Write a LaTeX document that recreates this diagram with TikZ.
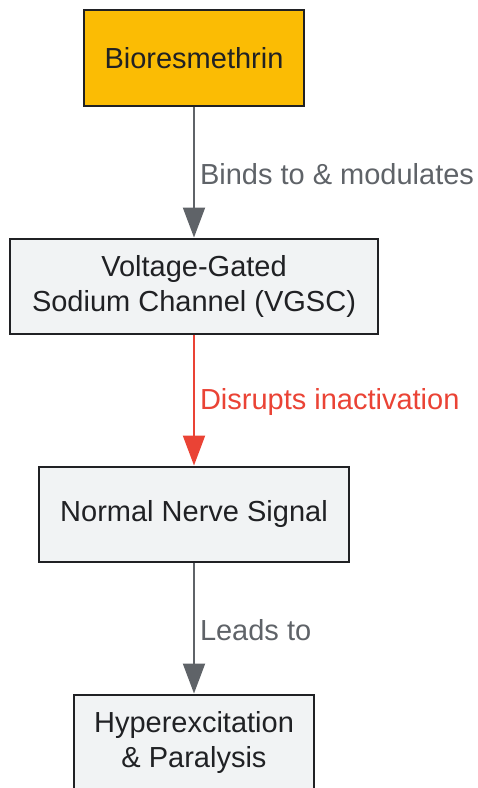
\documentclass[tikz,border=0pt]{standalone}
\usepackage{fontspec}
\setmainfont{Liberation Sans}
\usetikzlibrary{arrows.meta}
\definecolor{boxfill}{HTML}{F1F3F4}
\definecolor{boxline}{HTML}{202124}
\definecolor{textc}{HTML}{202124}
\definecolor{topfill}{HTML}{FBBC04}
\definecolor{arrgray}{HTML}{5F6368}
\definecolor{arrred}{HTML}{EA4335}
\begin{document}
\begin{tikzpicture}[x=1pt,y=-1pt,
  box/.style={draw=boxline,line width=2pt,fill=boxfill,text=textc,
    font=\fontsize{29}{35}\selectfont,align=center,inner sep=0pt,
    minimum height=95pt},
  arr/.style={draw=arrgray,line width=2pt,-{Triangle[length=30pt,width=22pt]}},
  lbl/.style={font=\fontsize{29}{35}\selectfont,text=arrgray,anchor=west,inner sep=0pt,yshift=-2pt}]
\useasboundingbox (0,0) rectangle (478,788);
\node[box,fill=topfill,minimum width=220pt,minimum height=96pt] (a) at (194,58) {Bioresmethrin};
\node[box,minimum width=368pt] (b) at (194,286) {Voltage-Gated\\Sodium Channel (VGSC)};
\node[box,minimum width=310pt] (c) at (194,514) {Normal Nerve Signal};
\node[box,minimum width=240pt] (d) at (194,742) {Hyperexcitation\\\& Paralysis};
\draw[arr] (a) -- (b) node[midway,lbl,xshift=5pt] {Binds to \& modulates};
\draw[arr,draw=arrred] (b) -- (c) node[midway,lbl,xshift=5pt,text=arrred] {Disrupts inactivation};
\draw[arr] (c) -- (d) node[midway,lbl,xshift=5pt] {Leads to};
\end{tikzpicture}
\end{document}
